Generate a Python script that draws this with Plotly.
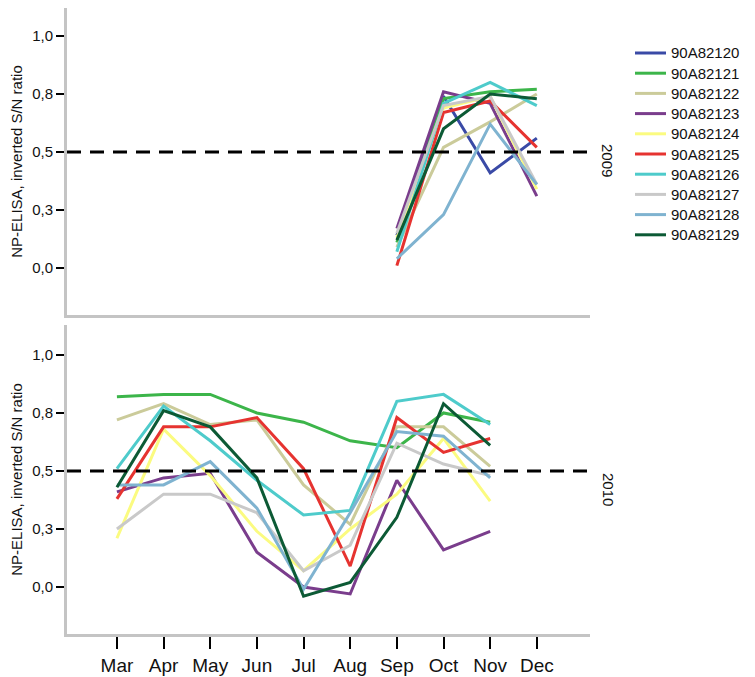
import plotly.graph_objects as go

months = ["Mar", "Apr", "May", "Jun", "Jul", "Aug", "Sep", "Oct", "Nov", "Dec"]
series_names = ["90A82120", "90A82121", "90A82122", "90A82123", "90A82124",
                "90A82125", "90A82126", "90A82127", "90A82128", "90A82129"]
colors = ["#3a4aa6", "#3cb54a", "#cbcb9a", "#7a3d8c", "#fbfb80",
          "#e63330", "#4ecbcb", "#c9c9c9", "#7fb3d0", "#0c5a35"]

N = None
# 2009 values (Mar..Dec); only Sep-Dec measured
v2009 = {
    "90A82120": [N, N, N, N, N, N, 0.14, 0.74, 0.41, 0.56],
    "90A82121": [N, N, N, N, N, N, 0.11, 0.73, 0.76, 0.77],
    "90A82122": [N, N, N, N, N, N, 0.09, 0.52, 0.63, 0.75],
    "90A82123": [N, N, N, N, N, N, 0.17, 0.76, 0.71, 0.31],
    "90A82124": [N, N, N, N, N, N, 0.13, 0.69, 0.74, 0.34],
    "90A82125": [N, N, N, N, N, N, 0.01, 0.67, 0.72, 0.52],
    "90A82126": [N, N, N, N, N, N, 0.07, 0.71, 0.80, 0.70],
    "90A82127": [N, N, N, N, N, N, 0.15, 0.70, 0.74, 0.36],
    "90A82128": [N, N, N, N, N, N, 0.04, 0.23, 0.62, 0.36],
    "90A82129": [N, N, N, N, N, N, 0.12, 0.60, 0.75, 0.73],
}
# 2010 values (Mar..Dec); Dec not measured
v2010 = {
    "90A82120": [N, N, N, N, N, N, N, N, N, N],
    "90A82121": [0.82, 0.83, 0.83, 0.75, 0.71, 0.63, 0.60, 0.75, 0.71, N],
    "90A82122": [0.72, 0.79, 0.70, 0.72, 0.44, 0.27, 0.69, 0.69, 0.52, N],
    "90A82123": [0.41, 0.47, 0.49, 0.15, 0.00, -0.03, 0.46, 0.16, 0.24, N],
    "90A82124": [0.21, 0.68, 0.48, 0.24, 0.07, 0.25, 0.40, 0.64, 0.37, N],
    "90A82125": [0.38, 0.69, 0.69, 0.73, 0.51, 0.09, 0.73, 0.58, 0.64, N],
    "90A82126": [0.51, 0.78, 0.63, 0.46, 0.31, 0.33, 0.80, 0.83, 0.70, N],
    "90A82127": [0.25, 0.40, 0.40, 0.32, 0.07, 0.18, 0.62, 0.53, 0.48, N],
    "90A82128": [0.44, 0.44, 0.54, 0.34, -0.01, 0.32, 0.67, 0.65, 0.47, N],
    "90A82129": [0.43, 0.76, 0.69, 0.47, -0.04, 0.02, 0.30, 0.79, 0.61, N],
}
y_tickvals = [0.0, 0.25, 0.5, 0.75, 1.0]
y_ticktext = ["0,0", "0,3", "0,5", "0,8", "1,0"]
cutoff = 0.5
panel_labels = ["2009", "2010"]
y_title = "NP-ELISA, inverted S/N ratio"

FONT = "Liberation Sans, Arial, sans-serif"
xs = list(range(len(months)))

# page geometry (page is offset 8px by body margin)
W, H = 747, 669
ML, MR, MT, MB = 59, 165, 0, 43
PW = W - ML - MR          # 523
PH = H - MT - MB          # 626


def px_x(page_x):
    return (page_x - 8 - ML) / PW


def px_y(page_y):
    return (H - MB - (page_y - 8)) / PH


fig = go.Figure()
for name, col in zip(series_names, colors):
    fig.add_trace(go.Scatter(x=xs, y=v2009[name], mode="lines", name=name,
                             line=dict(color=col, width=3), showlegend=False,
                             xaxis="x", yaxis="y"))
    fig.add_trace(go.Scatter(x=xs, y=v2010[name], mode="lines", name=name,
                             line=dict(color=col, width=3), showlegend=False,
                             xaxis="x2", yaxis="y2"))

# cutoff lines
for yref in ("y", "y2"):
    fig.add_shape(type="line", xref="x domain" if yref == "y" else "x2 domain", x0=0, x1=1,
                  yref=yref, y0=cutoff, y1=cutoff,
                  line=dict(color="black", width=3, dash="14px,9px"))

xr = [-1.07, 10.14]
yfont = dict(family=FONT, size=15, color="#111")
common_y = dict(tickvals=y_tickvals, ticktext=y_ticktext,
                ticks="outside", ticklen=8, tickwidth=2, tickcolor="black",
                showgrid=False, zeroline=False, showline=True, linecolor="#c4c4c4",
                linewidth=3, tickfont=yfont,
                title=dict(text=y_title, font=dict(family=FONT, size=15, color="#111"),
                           standoff=6))
top_dom = [(PH - 307) / PH, 1.0]
bot_dom = [0.0, (PH - 317) / PH]

fig.update_layout(
    width=W, height=H,
    margin=dict(l=ML, r=MR, t=MT, b=MB),
    paper_bgcolor="white", plot_bgcolor="white",
    showlegend=False,
    xaxis=dict(domain=[0, 1], range=xr, anchor="y", showgrid=False, zeroline=False,
               showline=True, linecolor="#c4c4c4", linewidth=3,
               showticklabels=False, ticks="", tickvals=xs),
    xaxis2=dict(domain=[0, 1], range=xr, anchor="y2", showgrid=False, zeroline=False,
                showline=True, linecolor="#c4c4c4", linewidth=3,
                tickvals=xs, ticktext=months, ticks="outside", ticklen=12, tickwidth=2,
                tickcolor="black", tickfont=dict(family=FONT, size=19, color="#111")),
    yaxis=dict(domain=top_dom, range=[-0.2026, 1.1207], anchor="x", **common_y),
    yaxis2=dict(domain=bot_dom, range=[-0.2026, 1.129], anchor="x2", **common_y),
)

# panel labels
for lab, py in zip(panel_labels, (160, 489)):
    fig.add_annotation(text=lab, textangle=90, xref="paper", x=px_x(608), xanchor="center",
                       yref="paper", y=px_y(py), yanchor="middle", showarrow=False,
                       font=dict(family=FONT, size=15, color="#111"))

# manual legend
for i, (name, col) in enumerate(zip(series_names, colors)):
    cy = px_y(53 + 20.2 * i)
    fig.add_shape(type="line", xref="paper", yref="paper", x0=px_x(635), x1=px_x(666),
                  y0=cy, y1=cy, line=dict(color=col, width=3))
    fig.add_annotation(text=name, xref="paper", yref="paper", x=px_x(669), xanchor="left",
                       y=cy, yanchor="middle", showarrow=False,
                       font=dict(family=FONT, size=15, color="#111"))

fig.write_html("out.html")
